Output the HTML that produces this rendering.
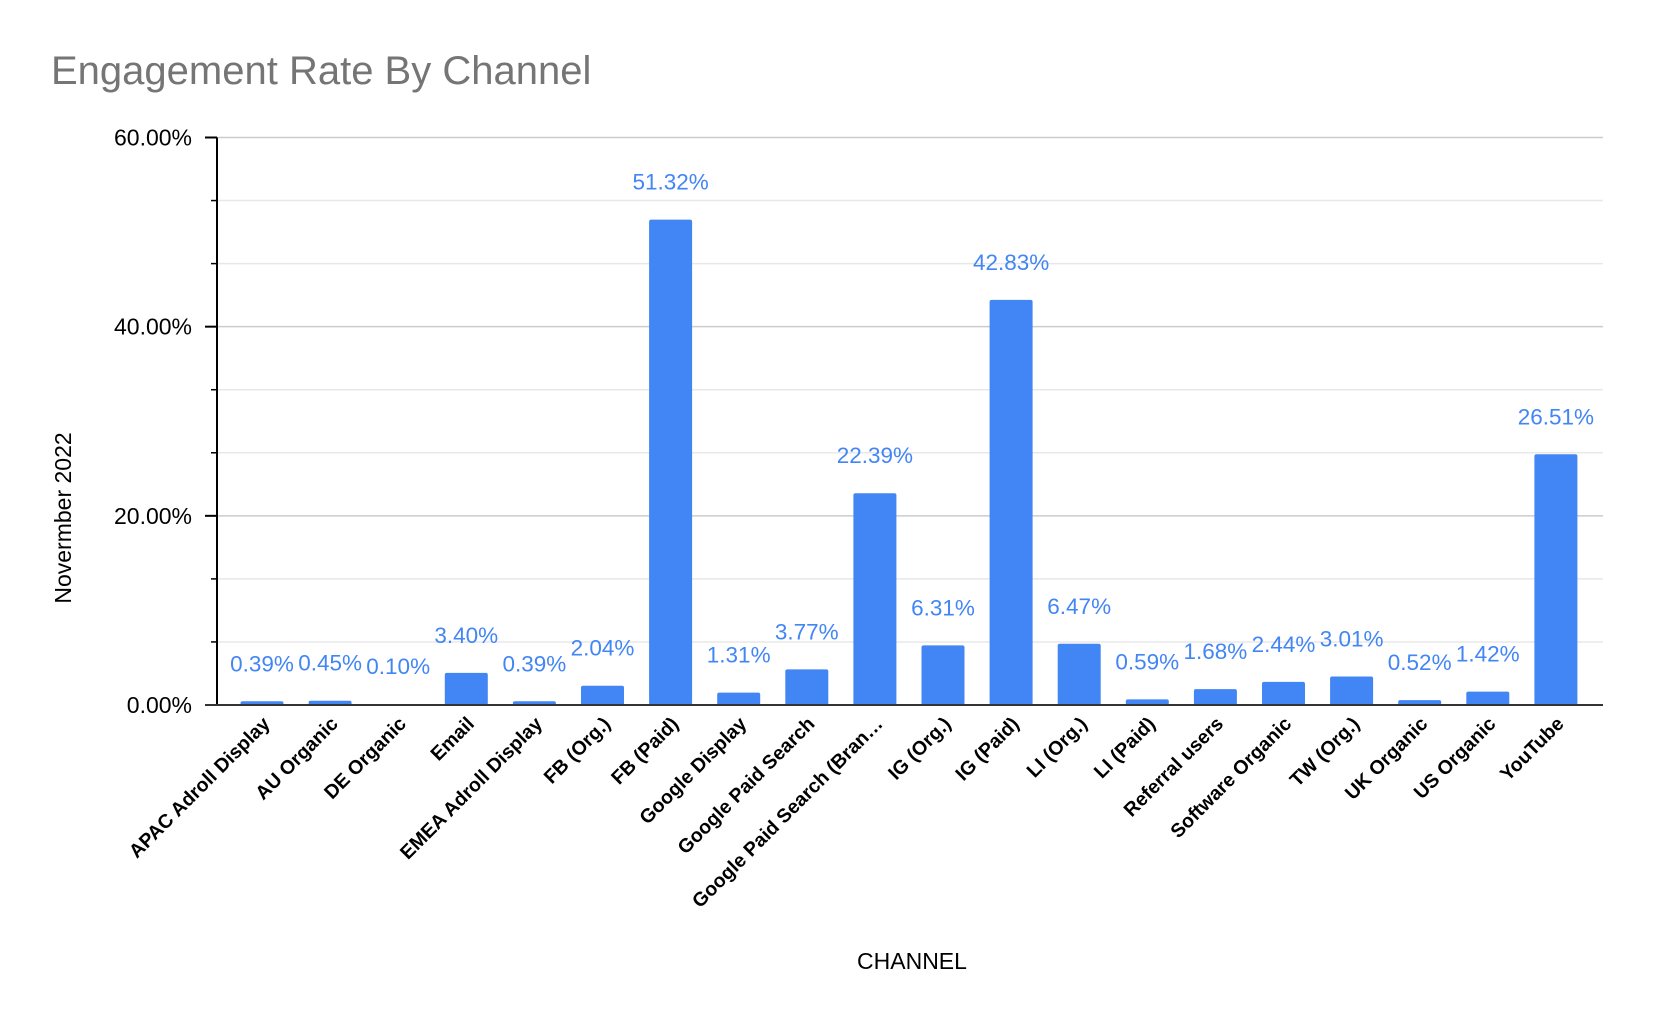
<!DOCTYPE html>
<html><head><meta charset="utf-8">
<style>
html,body{margin:0;padding:0;background:#fff;}
svg{display:block;font-family:"Liberation Sans",Arial,sans-serif;}
</style></head>
<body>
<svg id="chart" width="1653" height="1021" viewBox="0 0 1653 1021">
<text x="51" y="84" font-size="40" fill="#757575">Engagement Rate By Channel</text>
<text transform="translate(71,518) rotate(-90)" text-anchor="middle" font-size="23" fill="#000">Novermber 2022</text>
<text x="912" y="969" text-anchor="middle" font-size="23" fill="#000">CHANNEL</text>
<g id="grid"></g><g id="bars"></g><g id="axes"></g>
</svg>
<script>
const categories=["APAC Adroll Display","AU Organic","DE Organic","Email","EMEA Adroll Display","FB (Org.)","FB (Paid)","Google Display","Google Paid Search","Google Paid Search (Bran…","IG (Org.)","IG (Paid)","LI (Org.)","LI (Paid)","Referral users","Software Organic","TW (Org.)","UK Organic","US Organic","YouTube"];
const values=[0.39,0.45,0.10,3.40,0.39,2.04,51.32,1.31,3.77,22.39,6.31,42.83,6.47,0.59,1.68,2.44,3.01,0.52,1.42,26.51];
const yTicks=[0,20,40,60];
const yMinor=[6.667,13.333,26.667,33.333,46.667,53.333];
const NS="http://www.w3.org/2000/svg";
const X0=217,X1=1603,Y0=705,Y60=137.5;
function y(v){return Y0-(v/60)*(Y0-Y60);}
function xc(i){return 262+i*68.1;}
function mk(t,a,p){const e=document.createElementNS(NS,t);for(const k in a)e.setAttribute(k,a[k]);p.appendChild(e);return e;}
const grid=document.getElementById('grid'),bars=document.getElementById('bars'),axes=document.getElementById('axes');
yMinor.forEach(v=>{const l=mk('line',{x1:X0,x2:X1,y1:y(v),y2:y(v),stroke:'#e8e8e8','stroke-width':1.5},grid);


const t=mk('line',{x1:X0-6,x2:X0,y1:y(v),y2:y(v),stroke:'#000','stroke-width':1.5},axes);

});
yTicks.forEach(v=>{const l=mk('line',{x1:X0,x2:X1,y1:y(v),y2:y(v),stroke:'#cccccc','stroke-width':1.5},grid);


const t=mk('line',{x1:X0-12,x2:X0,y1:y(v),y2:y(v),stroke:'#000','stroke-width':2},axes);


const tx=mk('text',{x:192,y:y(v)+8,'text-anchor':'end','font-size':23,fill:'#000'},axes);
tx.textContent=v.toFixed(2)+'%';

});
values.forEach((v,i)=>{const top=y(v);
const r=mk('rect',{x:xc(i)-21.5,y:top,width:43,height:Y0-top,rx:2,fill:'#4285f4'},bars);


const lb=mk('text',{x:xc(i),y:top-30,'text-anchor':'middle','font-size':22.5,fill:'#4285f4'},bars);
lb.textContent=v.toFixed(2)+'%';


const cl=mk('text',{transform:`translate(${xc(i)+9},${Y0+20}) rotate(-45)`,'text-anchor':'end','font-size':19.5,'font-weight':'bold',fill:'#000'},axes);
cl.textContent=categories[i];

});
const ya=mk('line',{x1:X0,x2:X0,y1:Y60,y2:Y0,stroke:'#000','stroke-width':2},axes);


const xa=mk('line',{x1:X0-12,x2:X1,y1:Y0,y2:Y0,stroke:'#333','stroke-width':2},axes);


</script>
</body></html>
